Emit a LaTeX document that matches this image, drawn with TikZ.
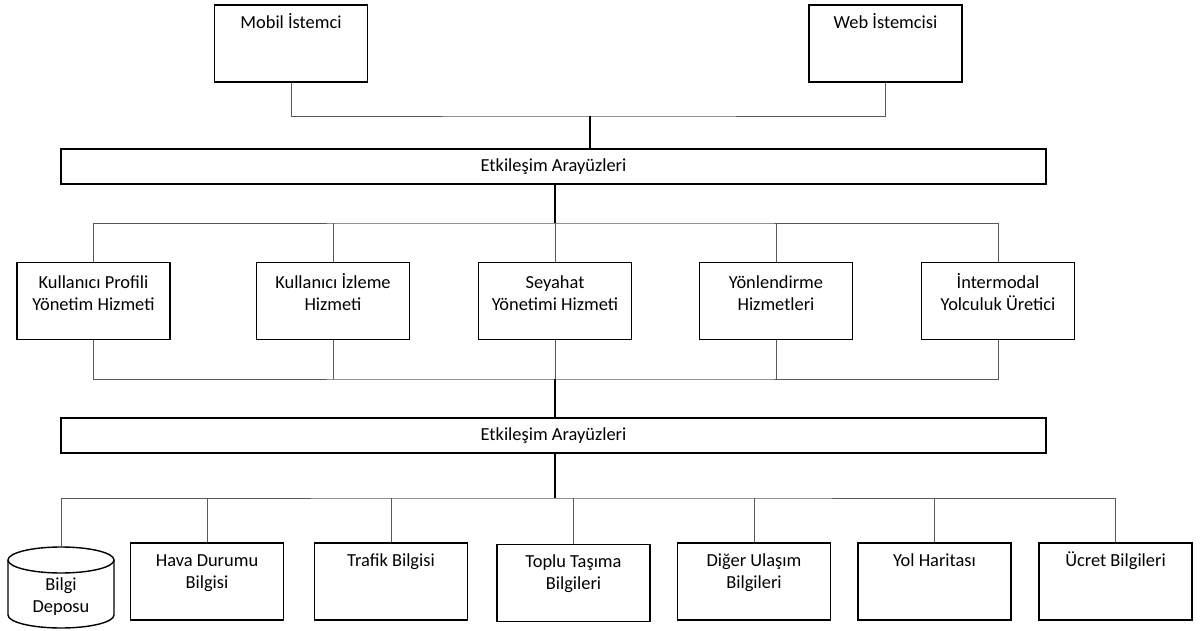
\documentclass[tikz,border=0pt]{standalone}
\usepackage{fontspec}
\setmainfont{Carlito}
\begin{document}
\begin{tikzpicture}[x=1pt,y=-1pt,
 box/.style={draw=black,line width=1.4pt,minimum width=153pt,minimum height=77pt,inner sep=0pt},
 bar/.style={draw=black,line width=1.4pt,minimum width=985pt,minimum height=35pt,inner sep=0pt,font=\fontsize{18.4}{21.7}\selectfont},
 lbl/.style={anchor=base,align=center,inner sep=0pt,font=\fontsize{18.4}{21.7}\selectfont},
 wire/.style={draw=black!65,line width=0.9pt},
 trunk/.style={draw=black,line width=1.2pt}]
\fill[white] (0,0) rectangle (1203,631);
\useasboundingbox (0,0) rectangle (1203,631);

% top clients
\node[box] (mob) at (291,43.5) {};
\node[lbl] (mobt) at ([yshift=-24pt]mob.north) {Mobil İstemci};
\node[box] (web) at (885.5,43.5) {};
\node[lbl] (webt) at ([yshift=-24pt]web.north) {Web İstemcisi};

\node[bar] (etk1) at (553.5,166.5) {Etkileşim Arayüzleri};

% services (base anchor = last line baseline)
\node[box] (p1) at (93.5,301) {};
\node[lbl] (p1t) at ([yshift=-48.7pt]p1.north) {Kullanıcı Profili\\Yönetim Hizmeti};
\node[box] (p2) at (333,301) {};
\node[lbl] (p2t) at ([yshift=-48.7pt]p2.north) {Kullanıcı İzleme\\Hizmeti};
\node[box] (p3) at (555,301) {};
\node[lbl] (p3t) at ([yshift=-48.7pt]p3.north) {Seyahat\\Yönetimi Hizmeti};
\node[box] (p4) at (776,301) {};
\node[lbl] (p4t) at ([yshift=-48.7pt]p4.north) {Yönlendirme\\Hizmetleri};
\node[box] (p5) at (998,301) {};
\node[lbl] (p5t) at ([yshift=-48.7pt]p5.north) {İntermodal\\Yolculuk Üretici};

\node[bar] (etk2) at (553.5,435.5) {Etkileşim Arayüzleri};

% data sources
\node[box] (q1) at (207,581.5) {};
\node[lbl] (q1t) at ([yshift=-45.7pt]q1.north) {Hava Durumu\\Bilgisi};
\node[box] (q2) at (391,581.5) {};
\node[lbl] (q2t) at ([yshift=-24pt]q2.north) {Trafik Bilgisi};
\node[box] (q3) at (573.5,583) {};
\node[lbl] (q3t) at ([yshift=-45.7pt]q3.north) {Toplu Taşıma\\Bilgileri};
\node[box] (q4) at (754,581.5) {};
\node[lbl] (q4t) at ([yshift=-45.7pt]q4.north) {Diğer Ulaşım\\Bilgileri};
\node[box] (q5) at (934.5,581.5) {};
\node[lbl] (q5t) at ([yshift=-24pt]q5.north) {Yol Haritası};
\node[box] (q6) at (1115.5,581.5) {};
\node[lbl] (q6t) at ([yshift=-24pt]q6.north) {Ücret Bilgileri};

% database cylinder
\coordinate (dbtop) at (61,547);
\draw[line width=1.4pt] (61,560) ellipse [x radius=53pt, y radius=13pt];
\draw[line width=1.4pt] (8,560) -- (8,615) arc[start angle=180,end angle=360,x radius=53pt,y radius=13pt] -- (114,560);
\node[lbl] (db) at (61,612) {Bilgi\\Deposu};

% connectors top
\coordinate (b1) at (590,116);
\draw[wire] (mob.south) |- (b1) -| (web.south);
\draw[trunk] (b1) -- (b1 |- etk1.north);

% connectors services
\coordinate (b2) at (555,223);
\coordinate (b3) at (555,379);
\draw[trunk] (etk1.south -| b2) -- (b2);
\draw[wire] (p1.north) |- (b2) -| (p5.north);
\draw[wire] (p2.north) -- (p2.north |- b2);
\draw[wire] (p3.north) -- (p3.north |- b2);
\draw[wire] (p4.north) -- (p4.north |- b2);
\draw[wire] (p1.south) |- (b3) -| (p5.south);
\draw[wire] (p2.south) -- (p2.south |- b3);
\draw[wire] (p3.south) -- (p3.south |- b3);
\draw[wire] (p4.south) -- (p4.south |- b3);
\draw[trunk] (b3) -- (b3 |- etk2.north);

% connectors data
\coordinate (b4) at (555,498);
\draw[trunk] (etk2.south -| b4) -- (b4);
\draw[wire] (dbtop) |- (b4) -| (q6.north);
\draw[wire] (q1.north) -- (q1.north |- b4);
\draw[wire] (q2.north) -- (q2.north |- b4);
\draw[wire] (q3.north) -- (q3.north |- b4);
\draw[wire] (q4.north) -- (q4.north |- b4);
\draw[wire] (q5.north) -- (q5.north |- b4);
\end{tikzpicture}
\end{document}
